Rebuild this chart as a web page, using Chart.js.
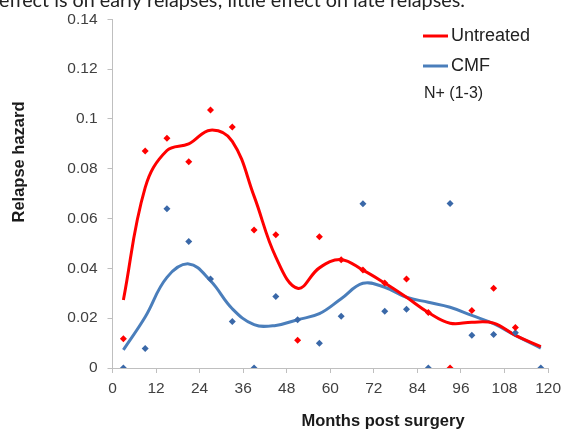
<!DOCTYPE html>
<html>
<head>
<meta charset="utf-8">
<script src="https://cdn.jsdelivr.net/npm/chart.js@4"></script>
<style>
  body { margin: 0; background: #fff; }
  canvas { display: block; }
</style>
</head>
<body>
<canvas id="hazardChart" width="567" height="432"></canvas>
<script>
// months post surgery (mid points of the 6 month intervals)
const months = [3, 9, 15, 21, 27, 33, 39, 45, 51, 57, 63, 69, 75, 81, 87, 93, 99, 105, 111, 118];

// observed hazards (markers)
const untreatedObs = [0.0117, 0.0871, 0.0922, 0.0828, 0.1036, 0.0968, 0.0554, 0.0535, 0.0111, 0.0527,
	0.0435, 0.0393, 0.0341, 0.0357, 0.0223, 0, 0.0231, 0.032, 0.0163, null];
const cmfObs = [0, 0.0078, 0.0639, 0.0508, 0.0357, 0.0187, 0, 0.0287, 0.0194, 0.0099,
	0.0208, 0.0659, 0.0228, 0.0236, 0, 0.066, 0.0131, 0.0134, 0.0142, 0];

// smoothed hazards (lines)
const untreatedFit = [0.0273, 0.0724, 0.0873, 0.090, 0.0955, 0.091, 0.069, 0.0445, 0.032, 0.0402,
	0.0435, 0.0393, 0.0341, 0.0284, 0.0223, 0.018, 0.0184, 0.018, 0.0131, 0.0086];
const cmfFit = [0.0073, 0.0205, 0.0364, 0.0418, 0.035, 0.0238, 0.0174, 0.0171, 0.0194, 0.0218,
	0.0278, 0.034, 0.0324, 0.0284, 0.0264, 0.0244, 0.0211, 0.0178, 0.0131, 0.008];

const xTicks = [0, 12, 24, 36, 48, 60, 72, 84, 96, 108, 120];
const yTicks = [0, 0.02, 0.04, 0.06, 0.08, 0.1, 0.12, 0.14];

const RED = '#ff0000';
const BLUE_LINE = '#4a7ebb';
const BLUE_PT = '#3a68a8';
const FONT = "'Liberation Sans', Arial, sans-serif";

function pts(arr) {
	return months.map((m, i) => ({x: m, y: arr[i]}));
}

// texts drawn on the canvas around the plot
const textsPlugin = {
	id: 'texts',
	afterDraw(chart) {
		const ctx = chart.ctx;
		ctx.save();

		// clipped slide sentence at the very top
		const topText = 'effect is on early relapses; little effect on late relapses.';
		ctx.font = "20px Lato, 'Open Sans', sans-serif";
		let w = ctx.measureText(topText).width;
		let size = 20 * 466 / w;
		ctx.font = size.toFixed(2) + "px Lato, 'Open Sans', sans-serif";
		ctx.fillStyle = '#222';
		ctx.textAlign = 'left';
		ctx.textBaseline = 'alphabetic';
		ctx.fillText(topText, -1, 6.5);

		// axis titles
		ctx.fillStyle = '#1a1a1a';
		ctx.font = 'bold 16.5px ' + FONT;
		ctx.textAlign = 'center';
		ctx.textBaseline = 'middle';
		ctx.fillText('Months post surgery', 383, 421);
		ctx.save();
		ctx.translate(19, 162);
		ctx.rotate(-Math.PI / 2);
		ctx.fillText('Relapse hazard', 0, 0);
		ctx.restore();

		// legend
		ctx.lineWidth = 3;
		ctx.strokeStyle = RED;
		ctx.beginPath(); ctx.moveTo(423, 36); ctx.lineTo(448, 36); ctx.stroke();
		ctx.strokeStyle = BLUE_LINE;
		ctx.beginPath(); ctx.moveTo(423, 66); ctx.lineTo(448, 66); ctx.stroke();
		ctx.font = '18px ' + FONT;
		ctx.textAlign = 'left';
		ctx.fillStyle = '#222';
		ctx.fillText('Untreated', 451, 36);
		ctx.fillText('CMF', 451, 66);
		ctx.font = '16px ' + FONT;
		ctx.fillText('N+ (1-3)', 424, 94);

		ctx.restore();
	}
};

const config = {
	type: 'line',
	data: {
		datasets: [
			{
				label: 'Untreated obs',
				type: 'scatter',
				data: pts(untreatedObs),
				pointStyle: 'rectRot',
				pointRadius: 3.5,
				backgroundColor: RED,
				borderColor: RED,
				borderWidth: 0,
				order: -1
			},
			{
				label: 'CMF obs',
				type: 'scatter',
				data: pts(cmfObs),
				pointStyle: 'rectRot',
				pointRadius: 3.5,
				backgroundColor: BLUE_PT,
				borderColor: BLUE_PT,
				borderWidth: 0,
				order: -1
			},
			{
				label: 'Untreated',
				data: pts(untreatedFit),
				borderColor: RED,
				borderWidth: 3,
				pointRadius: 0,
				tension: 0.4,
				fill: false,
				order: 0
			},
			{
				label: 'CMF',
				data: pts(cmfFit),
				borderColor: BLUE_LINE,
				borderWidth: 3,
				pointRadius: 0,
				tension: 0.4,
				fill: false,
				order: 1
			}
		]
	},
	options: {
		responsive: false,
		animation: false,
		devicePixelRatio: 1,
		layout: {
			padding: {left: 0, right: 14.5, top: 18, bottom: 0}
		},
		plugins: {
			legend: {display: false},
			tooltip: {enabled: false}
		},
		scales: {
			x: {
				type: 'linear',
				min: 0,
				max: 120,
				afterBuildTicks: scale => { scale.ticks = xTicks.map(v => ({value: v})); },
				afterFit: scale => { scale.height = 64; },
				grid: {display: true, drawOnChartArea: false, drawTicks: true, tickLength: 5, color: '#bfbfbf'},
				border: {color: '#bfbfbf', width: 1},
				ticks: {
					autoSkip: false,
					maxRotation: 0,
					padding: 6,
					color: '#404040',
					font: {family: FONT, size: 15.5}
				}
			},
			y: {
				min: 0,
				max: 0.14,
				afterBuildTicks: scale => { scale.ticks = yTicks.map(v => ({value: v})); },
				afterFit: scale => { scale.width = 112.5; },
				grid: {display: true, drawOnChartArea: false, drawTicks: true, tickLength: 5, color: '#bfbfbf'},
				border: {color: '#bfbfbf', width: 1},
				ticks: {
					padding: 10,
					color: '#404040',
					font: {family: FONT, size: 15.5},
					callback: function(value) {
						return String(Math.round(value * 100) / 100);
					}
				}
			}
		}
	},
	plugins: [textsPlugin]
};

const hazardChart = new Chart(document.getElementById('hazardChart'), config);
</script>
</body>
</html>
